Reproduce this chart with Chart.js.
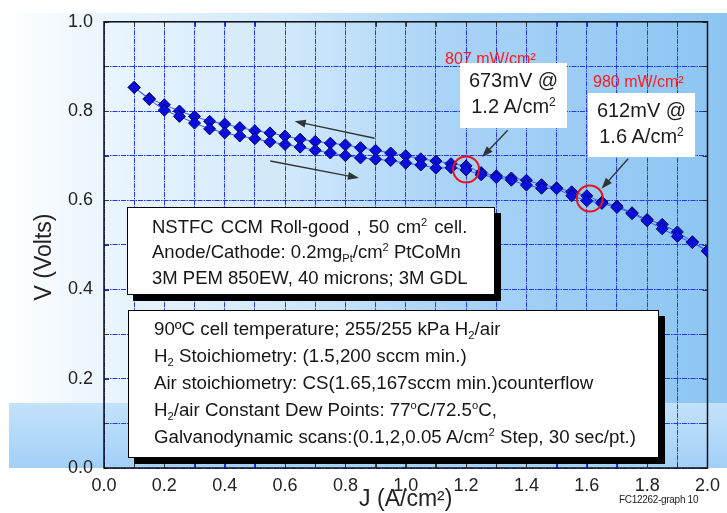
<!DOCTYPE html>
<html><head><meta charset="utf-8">
<script src="https://cdn.jsdelivr.net/npm/chart.js@4.4.0/dist/chart.umd.min.js"></script>
<style>
html,body{margin:0;padding:0;background:#fff;}
#wrap{position:relative;width:727px;height:513px;overflow:hidden;font-family:"Liberation Sans",Arial,sans-serif;}
canvas{position:absolute;left:0;top:0;}
.box{position:absolute;background:#fff;border:1px solid #000;box-sizing:border-box;color:#161616;white-space:nowrap;}
.shadow{box-shadow:6px 6px 0 #000;}
sup{font-size:0.6em;vertical-align:0.6em;line-height:0;}
sub{font-size:0.6em;vertical-align:-0.35em;line-height:0;}
.red{position:absolute;color:#ff1c1c;font-size:16px;line-height:16px;white-space:nowrap;}
.call{position:absolute;background:#fff;text-align:center;color:#1c1c1c;font-size:20px;line-height:26px;box-sizing:border-box;}
#fc{position:absolute;left:619px;top:494px;font-family:"Liberation Sans Narrow","Liberation Sans",sans-serif;font-size:10px;color:#222;letter-spacing:-0.3px;}
</style>
</head><body>
<div id="wrap">
<canvas id="c" width="727" height="513"></canvas>
<div class="box shadow" style="left:127px;top:207px;width:368px;height:88px;font-size:18.5px;line-height:25.3px;padding:6px 0 0 24px;">
<div style="word-spacing:2px;">NSTFC CCM Roll-good , 50 cm<sup>2</sup> cell.</div>
<div>Anode/Cathode: 0.2mg<sub>Pt</sub>/cm<sup>2</sup> PtCoMn</div>
<div>3M PEM 850EW, 40 microns; 3M GDL</div>
</div>
<div class="box shadow" style="left:128px;top:310px;width:531px;height:148px;font-size:18.7px;line-height:27px;padding:3.5px 0 0 25px;">
<div>90ºC cell temperature; 255/255 kPa H<sub>2</sub>/air</div>
<div>H<sub>2</sub> Stoichiometry: (1.5,200 sccm min.)</div>
<div>Air stoichiometry: CS(1.65,167sccm min.)counterflow</div>
<div>H<sub>2</sub>/air Constant Dew Points: 77<sup>o</sup>C/72.5<sup>o</sup>C,</div>
<div>Galvanodynamic scans:(0.1,2,0.05 A/cm<sup>2</sup> Step, 30 sec/pt.)</div>
</div>
<div class="red" style="left:445px;top:51px;">807 mW/cm²</div>
<div class="red" style="left:593px;top:74px;">980 mW/cm²</div>
<div class="call" style="left:460px;top:63px;width:107px;height:65px;padding-top:4px;">673mV @<br>1.2 A/cm<sup>2</sup></div>
<div class="call" style="left:588px;top:93px;width:107px;height:64px;padding-top:4px;">612mV @<br>1.6 A/cm<sup>2</sup></div>
<div id="fc">FC12262-graph 10</div>
</div>
<script>
// ---- data ----
const J = [0.10,0.15,0.20,0.25,0.30,0.35,0.40,0.45,0.50,0.55,0.60,0.65,0.70,0.75,0.80,0.85,0.90,0.95,1.00,
           1.05,1.10,1.15,1.20,1.25,1.30,1.35,1.40,1.45,1.50,1.55,1.60,1.65,1.70,1.75,1.80,1.85,1.90,1.95,2.00];
const V_reverse = [0.853,0.828,0.814,0.800,0.788,0.777,0.771,0.763,0.756,0.751,0.744,0.737,0.732,0.728,0.724,0.718,0.712,0.706,0.700,
                   0.693,0.688,0.682,0.677,0.662,0.655,0.650,0.645,0.635,0.628,0.619,0.610,0.596,0.587,0.572,0.557,0.546,0.529,0.507,0.487];
const V_forward = [0.853,0.826,0.802,0.788,0.773,0.760,0.751,0.744,0.738,0.731,0.725,0.719,0.712,0.706,0.700,0.695,0.692,0.689,0.683,
                   0.679,0.672,0.673,0.668,0.657,0.651,0.645,0.634,0.627,0.626,0.610,0.599,0.593,0.584,0.570,0.554,0.536,0.519,0.505,0.486];
const xTickLabels = ['0.0','0.2','0.4','0.6','0.8','1.0','1.2','1.4','1.6','1.8','2.0'];
const yTickLabels = ['0.0','0.2','0.4','0.6','0.8','1.0'];
const xTitle = 'J (A/cm²)';
const yTitle = 'V (Volts)';
// annotation anchors in data units
const circles = [[1.20,0.669],[1.61,0.604]];
const arrows = [
  [[0.897,0.739],[0.632,0.777]],
  [[0.551,0.688],[0.845,0.650]],
  [[1.338,0.757],[1.253,0.697]],
  [[1.737,0.693],[1.649,0.626]]
];

const toPts = (ys) => J.map((x,i)=>({x:x,y:ys[i]}));

const bgPlugin = {
  id:'bg',
  beforeDraw(chart){
    const {ctx,width,height,chartArea:a} = chart;
    ctx.save();
    ctx.fillStyle='#fff'; ctx.fillRect(0,0,width,height);
    const g = ctx.createLinearGradient(0,0,width,0);
    g.addColorStop(0,'#ffffff');
    g.addColorStop(0.143,'#eaf5fe');
    g.addColorStop(0.40,'#d0e8fb');
    g.addColorStop(0.62,'#a9d3f7');
    g.addColorStop(1,'#8cc5f2');
    ctx.fillStyle=g; ctx.fillRect(0,13,width,a.bottom-13);
    const g2 = ctx.createLinearGradient(0,403,0,a.bottom);
    g2.addColorStop(0,'#c3e2fb'); g2.addColorStop(1,'#a2d0f7');
    ctx.fillStyle=g2; ctx.fillRect(9,403,width-9,a.bottom-403);
    ctx.restore();
  },
  beforeDatasetsDraw(chart){
    const {ctx,chartArea:a,scales:{x,y}} = chart;
    ctx.save();
    ctx.strokeStyle='#333'; ctx.lineWidth=1;
    ctx.beginPath();
    for(const t of x.ticks){ const px=Math.round(x.getPixelForValue(t.value))+0.5;
      ctx.moveTo(px,a.bottom); ctx.lineTo(px,a.bottom-5); ctx.moveTo(px,a.top); ctx.lineTo(px,a.top+5); }
    for(const t of y.ticks){ const py=Math.round(y.getPixelForValue(t.value))+0.5;
      ctx.moveTo(a.left,py); ctx.lineTo(a.left+5,py); ctx.moveTo(a.right,py); ctx.lineTo(a.right-5,py); }
    ctx.stroke();
    ctx.strokeStyle='#111'; ctx.lineWidth=1.5;
    ctx.strokeRect(a.left,a.top,a.right-a.left,a.bottom-a.top);
    ctx.restore();
  },
  afterDatasetsDraw(chart){
    const {ctx,scales:{x,y}} = chart;
    ctx.save();
    ctx.strokeStyle='#e8141c'; ctx.lineWidth=2;
    for(const [cx,cy] of circles){ ctx.beginPath(); ctx.arc(x.getPixelForValue(cx),y.getPixelForValue(cy),13,0,Math.PI*2); ctx.stroke(); }
    ctx.strokeStyle='#333'; ctx.fillStyle='#333'; ctx.lineWidth=1.4;
    for(const [p0,p1] of arrows){
      const x0=x.getPixelForValue(p0[0]), y0=y.getPixelForValue(p0[1]);
      const x1=x.getPixelForValue(p1[0]), y1=y.getPixelForValue(p1[1]);
      const ang=Math.atan2(y1-y0,x1-x0), L=11, W=4;
      ctx.beginPath(); ctx.moveTo(x0,y0); ctx.lineTo(x1-Math.cos(ang)*L*0.8,y1-Math.sin(ang)*L*0.8); ctx.stroke();
      ctx.beginPath(); ctx.moveTo(x1,y1);
      ctx.lineTo(x1-Math.cos(ang)*L-Math.sin(ang)*W, y1-Math.sin(ang)*L+Math.cos(ang)*W);
      ctx.lineTo(x1-Math.cos(ang)*L+Math.sin(ang)*W, y1-Math.sin(ang)*L-Math.cos(ang)*W);
      ctx.closePath(); ctx.fill();
    }
    ctx.restore();
  },
  afterDraw(chart){
    const {ctx} = chart;
    ctx.save();
    ctx.translate(45,257); ctx.rotate(-Math.PI/2);
    ctx.font='23px "Liberation Sans", Arial, sans-serif';
    ctx.fillStyle='#222'; ctx.textAlign='center'; ctx.textBaseline='middle';
    ctx.fillText(yTitle,0,0);
    ctx.restore();
  }
};

const ds = (label,ys)=>({
  label, data: toPts(ys), showLine:true,
  borderColor:'#3a55ff', borderWidth:1,
  pointStyle:'rectRot', pointRadius:6,
  pointBackgroundColor:'#0a0ede', pointBorderColor:'#000868', pointBorderWidth:1
});

new Chart(document.getElementById('c'),{
  type:'scatter',
  data:{datasets:[ds('forward',V_forward), ds('reverse',V_reverse)]},
  options:{
    responsive:false, animation:false,
    layout:{padding:{left:0,right:10.5,top:20,bottom:0}, autoPadding:false},
    plugins:{legend:{display:false}, tooltip:{enabled:false}},
    scales:{
      x:{type:'linear',min:0,max:2,
        afterFit:(s)=>{s.height=45;},
        ticks:{stepSize:0.1,maxTicksLimit:40,autoSkip:false,maxRotation:0,padding:7,color:'#222',
          font:{family:'"Liberation Sans", Arial, sans-serif',size:18},
          callback:(v)=>{const k=Math.round(v*10); return k%2===0 ? xTickLabels[k/2] : '';}},
        grid:{color:'#2236ff',lineWidth:1,drawTicks:false},
        border:{display:false,dash:[5,1,1.5,1]},
        title:{display:true,text:xTitle,color:'#222',padding:{top:0,bottom:0},
          font:{family:'"Liberation Sans", Arial, sans-serif',size:23}}
      },
      y:{type:'linear',min:0,max:1,
        afterFit:(s)=>{s.width=104;},
        ticks:{stepSize:0.1,maxTicksLimit:40,autoSkip:false,padding:11,color:'#222',
          font:{family:'"Liberation Sans", Arial, sans-serif',size:18},
          callback:(v)=>{const k=Math.round(v*10); return k%2===0 ? yTickLabels[k/2] : '';}},
        grid:{color:'#2236ff',lineWidth:1,drawTicks:false},
        border:{display:false,dash:[5,1,1.5,1]}
      }
    }
  },
  plugins:[bgPlugin]
});
</script>
</body></html>
